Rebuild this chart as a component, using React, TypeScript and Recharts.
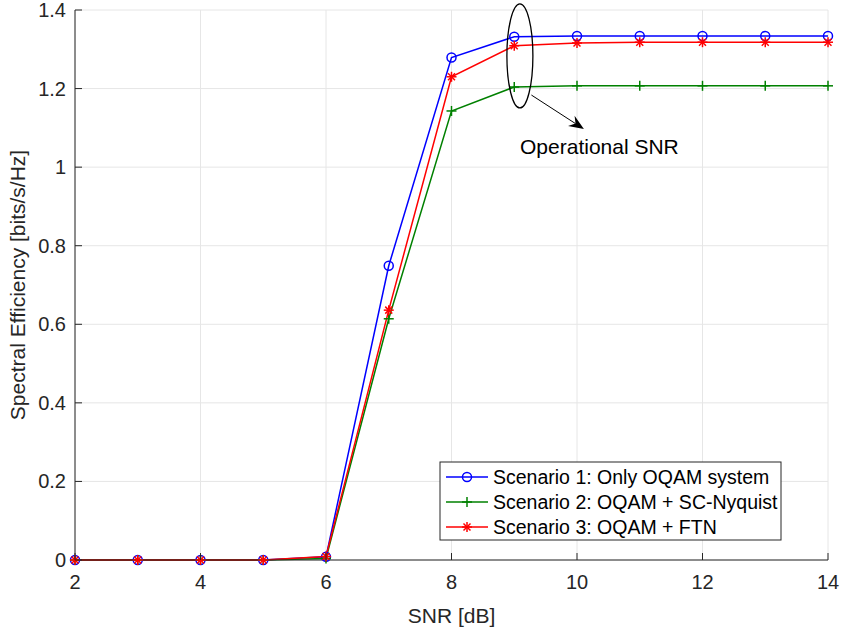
import React from "react";
import {
  LineChart,
  Line,
  XAxis,
  YAxis,
  CartesianGrid,
  ReferenceDot,
} from "recharts";

const snr = [2, 3, 4, 5, 6, 7, 8, 9, 10, 11, 12, 13, 14];
const scenario1 = [0, 0, 0, 0, 0.008, 0.749, 1.279, 1.332, 1.334, 1.334, 1.334, 1.334, 1.334];
const scenario2 = [0, 0, 0, 0, 0.004, 0.614, 1.143, 1.204, 1.207, 1.207, 1.207, 1.207, 1.207];
const scenario3 = [0, 0, 0, 0, 0.009, 0.636, 1.23, 1.309, 1.316, 1.318, 1.318, 1.318, 1.318];

const xTicks = [2, 4, 6, 8, 10, 12, 14];
const yTicks = [0, 0.2, 0.4, 0.6, 0.8, 1, 1.2, 1.4];

const seriesNames = [
  "Scenario 1: Only OQAM system",
  "Scenario 2: OQAM + SC-Nyquist",
  "Scenario 3: OQAM + FTN",
];
const seriesColors = ["#0000ff", "#008000", "#ff0000"];

const data = snr.map((x, i) => ({
  snr: x,
  s1: scenario1[i],
  s2: scenario2[i],
  s3: scenario3[i],
}));

const FONT = "'Liberation Sans', Arial, Helvetica, sans-serif";
const AXIS = "#262626";
const TICK_LEN = 7;

// marker shapes (MATLAB style)
function Marker({ kind, cx, cy, color }: { kind: number; cx: number; cy: number; color: string }) {
  if (kind === 0) {
    return <circle cx={cx} cy={cy} r={4.5} fill="none" stroke={color} strokeWidth={1.5} />;
  }
  if (kind === 1) {
    return (
      <g stroke={color} strokeWidth={1.5}>
        <line x1={cx - 5} y1={cy} x2={cx + 5} y2={cy} />
        <line x1={cx} y1={cy - 5} x2={cx} y2={cy + 5} />
      </g>
    );
  }
  const d = 3.5;
  return (
    <g stroke={color} strokeWidth={1.5}>
      <line x1={cx - 5} y1={cy} x2={cx + 5} y2={cy} />
      <line x1={cx} y1={cy - 5} x2={cx} y2={cy + 5} />
      <line x1={cx - d} y1={cy - d} x2={cx + d} y2={cy + d} />
      <line x1={cx - d} y1={cy + d} x2={cx + d} y2={cy - d} />
    </g>
  );
}

const dotFor = (kind: number) => (props: any) => {
  const { cx, cy, index } = props;
  if (cx == null || cy == null) return <g key={`d${kind}-${index}`} />;
  return (
    <g key={`d${kind}-${index}`}>
      <Marker kind={kind} cx={cx} cy={cy} color={seriesColors[kind]} />
    </g>
  );
};

const BottomTick = (props: any) => {
  const { x, y, payload } = props;
  return (
    <g>
      <line x1={x} y1={y} x2={x} y2={y - TICK_LEN} stroke={AXIS} />
      <text x={x} y={y + 29} textAnchor="middle" fontSize={20} fill={AXIS} fontFamily={FONT}>
        {payload.value}
      </text>
    </g>
  );
};

const TopTick = (props: any) => {
  const { x, y } = props;
  return <line x1={x} y1={y} x2={x} y2={y + TICK_LEN} stroke={AXIS} />;
};

const LeftTick = (props: any) => {
  const { x, y, payload } = props;
  return (
    <g>
      <line x1={x} y1={y} x2={x + TICK_LEN} y2={y} stroke={AXIS} />
      <text x={x - 9} y={y + 7} textAnchor="end" fontSize={20} fill={AXIS} fontFamily={FONT}>
        {payload.value}
      </text>
    </g>
  );
};

const RightTick = (props: any) => {
  const { x, y } = props;
  return <line x1={x} y1={y} x2={x - TICK_LEN} y2={y} stroke={AXIS} />;
};

const Ellipse = (props: any) => (
  <ellipse cx={props.cx} cy={props.cy} rx={13} ry={52} fill="none" stroke="#000" strokeWidth={1.3} />
);

const Arrow = (props: any) => {
  const { cx, cy } = props;
  const sx = cx - 52.5;
  const sy = cy - 34;
  const len = Math.hypot(cx - sx, cy - sy);
  const ux = (cx - sx) / len;
  const uy = (cy - sy) / len;
  const px = -uy;
  const py = ux;
  const bx = cx - 15 * ux;
  const by = cy - 15 * uy;
  const nx = cx - 10 * ux;
  const ny = cy - 10 * uy;
  const pts = [
    [cx, cy],
    [bx + 6 * px, by + 6 * py],
    [nx, ny],
    [bx - 6 * px, by - 6 * py],
  ]
    .map((p) => p.join(","))
    .join(" ");
  return (
    <g>
      <line x1={sx} y1={sy} x2={nx} y2={ny} stroke="#000" strokeWidth={1} />
      <polygon points={pts} fill="#000" />
    </g>
  );
};

const Note = (props: any) => (
  <text x={props.cx} y={props.cy} fontSize={21} fill="#000" fontFamily={FONT}>
    Operational SNR
  </text>
);

function LegendBox() {
  return (
    <svg
      width={343}
      height={80}
      style={{ position: "absolute", left: 439, top: 461 }}
    >
      <rect x={1} y={1} width={341} height={78} fill="#fff" stroke={AXIS} strokeWidth={1} />
      {seriesNames.map((name, i) => {
        const cy = 16 + i * 25;
        return (
          <g key={name}>
            <line x1={7} y1={cy} x2={49} y2={cy} stroke={seriesColors[i]} strokeWidth={1.5} />
            <Marker kind={i} cx={28} cy={cy} color={seriesColors[i]} />
            <text x={54} y={cy + 7} fontSize={19.5} fill="#000" fontFamily={FONT}>
              {name}
            </text>
          </g>
        );
      })}
    </svg>
  );
}

export default function App() {
  return (
    <div style={{ position: "absolute", left: 0, top: 0, width: 843, height: 630, background: "#fff", fontFamily: FONT }}>
      <LineChart
        width={843}
        height={630}
        data={data}
        margin={{ top: 10, right: 15, bottom: 0, left: 0 }}
      >
        <CartesianGrid stroke="#e6e6e6" strokeWidth={1} />
        <XAxis
          dataKey="snr"
          type="number"
          domain={[2, 14]}
          ticks={xTicks}
          height={70}
          tickSize={0}
          tickMargin={0}
          tickLine={false}
          stroke={AXIS}
          tick={BottomTick}
          label={{ value: "SNR [dB]", position: "insideBottom", offset: 7, fontSize: 21, fill: AXIS, fontFamily: FONT }}
        />
        <XAxis
          xAxisId="top"
          orientation="top"
          dataKey="snr"
          type="number"
          domain={[2, 14]}
          ticks={xTicks}
          height={0}
          tickSize={0}
          tickMargin={0}
          tickLine={false}
          stroke={AXIS}
          tick={TopTick}
        />
        <YAxis
          type="number"
          domain={[0, 1.4]}
          ticks={yTicks}
          width={75}
          tickSize={0}
          tickMargin={0}
          tickLine={false}
          stroke={AXIS}
          tick={LeftTick}
          label={{
            value: "Spectral Efficiency [bits/s/Hz]",
            angle: -90,
            position: "insideLeft",
            offset: 18,
            style: { textAnchor: "middle" },
            fontSize: 21,
            fill: AXIS,
            fontFamily: FONT,
          }}
        />
        <YAxis
          yAxisId="right"
          orientation="right"
          type="number"
          domain={[0, 1.4]}
          ticks={yTicks}
          width={0}
          tickSize={0}
          tickMargin={0}
          tickLine={false}
          stroke={AXIS}
          tick={RightTick}
        />
        <Line dataKey="s1" stroke={seriesColors[0]} strokeWidth={1.5} dot={dotFor(0)} isAnimationActive={false} />
        <Line dataKey="s2" stroke={seriesColors[1]} strokeWidth={1.5} dot={dotFor(1)} isAnimationActive={false} />
        <Line dataKey="s3" stroke={seriesColors[2]} strokeWidth={1.5} dot={dotFor(2)} isAnimationActive={false} />
        <ReferenceDot x={9.09} y={1.283} shape={Ellipse} />
        <ReferenceDot x={10.11} y={1.097} shape={Arrow} />
        <ReferenceDot x={9.092} y={1.033} shape={Note} />
      </LineChart>
      <LegendBox />
    </div>
  );
}
